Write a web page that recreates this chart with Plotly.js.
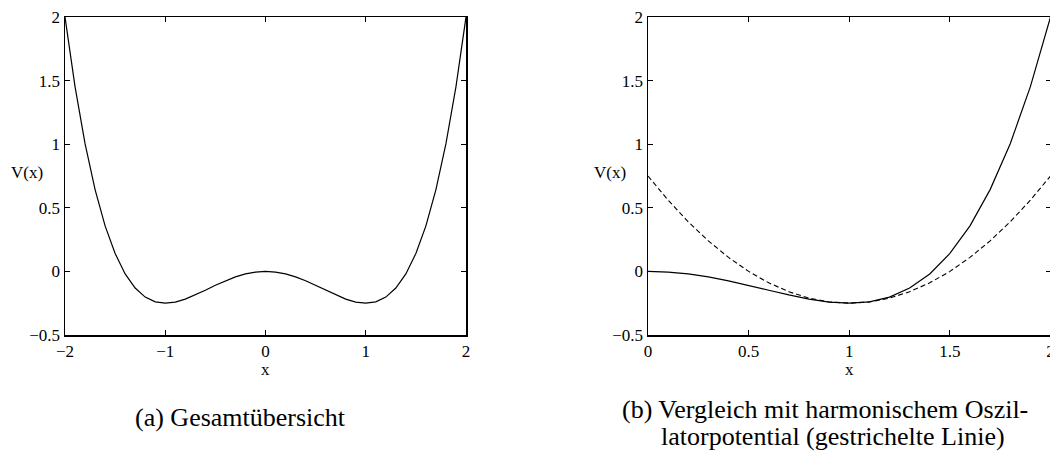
<!DOCTYPE html>
<html>
<head>
<meta charset="utf-8">
<script src="https://cdn.plot.ly/plotly-3.0.1.min.js"></script>
<style>
html,body{margin:0;padding:0;overflow:hidden;background:#fff;}
#chart{width:1064px;height:459px;}
</style>
</head>
<body>
<div id="chart"></div>
<script>
// Left panel: full potential
const xFull = [-2,-1.9,-1.8,-1.7,-1.6,-1.5,-1.4,-1.3,-1.2,-1.1,-1,-0.9,-0.8,-0.7,-0.6,-0.5,-0.4,-0.3,-0.2,-0.1,0,0.1,0.2,0.3,0.4,0.5,0.6,0.7,0.8,0.9,1,1.1,1.2,1.3,1.4,1.5,1.6,1.7,1.8,1.9,2];
const vFull = [2,1.453,1.004,0.643,0.358,0.141,-0.020,-0.131,-0.202,-0.239,-0.25,-0.241,-0.218,-0.185,-0.148,-0.109,-0.074,-0.043,-0.020,-0.005,0,-0.005,-0.020,-0.043,-0.074,-0.109,-0.148,-0.185,-0.218,-0.241,-0.25,-0.239,-0.202,-0.131,-0.020,0.141,0.358,0.643,1.004,1.453,2];
// Right panel: zoom and harmonic approximation
const xHalf = [0,0.1,0.2,0.3,0.4,0.5,0.6,0.7,0.8,0.9,1,1.1,1.2,1.3,1.4,1.5,1.6,1.7,1.8,1.9,2];
const vHalf = [0,-0.005,-0.020,-0.043,-0.074,-0.109,-0.148,-0.185,-0.218,-0.241,-0.25,-0.239,-0.202,-0.131,-0.020,0.141,0.358,0.643,1.004,1.453,2];
const vHarm = [0.75,0.56,0.39,0.24,0.11,0,-0.09,-0.16,-0.21,-0.24,-0.25,-0.24,-0.21,-0.16,-0.09,0,0.11,0.24,0.39,0.56,0.75];
const xTicksA = [-2,-1,0,1,2];
const xTicksB = [0,0.5,1,1.5,2];
const yTicks = [-0.5,0,0.5,1,1.5,2];
const yTickText = ['\u22120.5','0','0.5','1','1.5','2'];
const xTickTextA = ['\u22122','\u22121','0','1','2'];
const xTickTextB = ['0','0.5','1','1.5','2'];
const captionA = '(a) Gesamtübersicht';
const captionB1 = '(b) Vergleich mit harmonischem Oszil-';
const captionB2 = 'latorpotential (gestrichelte Linie)';

const W = 1064, H = 459;
const ff = '"Liberation Serif", "Times New Roman", serif';
const font = {family:ff, size:17, color:'#000'};
const capFont = {family:ff, size:26, color:'#000'};
const axBase = {
  showline:true, linecolor:'#000', linewidth:1.5, mirror:'ticks',
  ticks:'inside', ticklen:5, tickwidth:1, tickcolor:'#000',
  showgrid:false, zeroline:false, tickfont:font, fixedrange:true,
  ticklabeloverflow:'allow'
};
const traces = [
  {x:xFull, y:vFull, type:'scatter', mode:'lines', line:{color:'#000', width:1.2}, xaxis:'x', yaxis:'y', hoverinfo:'skip'},
  {x:xHalf, y:vHalf, type:'scatter', mode:'lines', line:{color:'#000', width:1.2}, xaxis:'x2', yaxis:'y2', hoverinfo:'skip'},
  {x:xHalf, y:vHarm, type:'scatter', mode:'lines', line:{color:'#000', width:1.1, dash:'5px,3px'}, xaxis:'x2', yaxis:'y2', hoverinfo:'skip'}
];
const yDom = [(H-335)/H, (H-17)/H];
const layout = {
  width:W, height:H, margin:{l:0,r:0,t:0,b:0},
  paper_bgcolor:'#fff', plot_bgcolor:'#fff', showlegend:false,
  font:font,
  xaxis: Object.assign({}, axBase, {domain:[65/W, 466/W], range:[-2,2], tickvals:xTicksA, ticktext:xTickTextA, anchor:'y'}),
  yaxis: Object.assign({}, axBase, {domain:yDom, range:[-0.5,2], tickvals:yTicks, ticktext:yTickText, anchor:'x'}),
  xaxis2: Object.assign({}, axBase, {domain:[648/W, 1050.5/W], range:[0,2], tickvals:xTicksB, ticktext:xTickTextB, anchor:'y2'}),
  yaxis2: Object.assign({}, axBase, {domain:yDom, range:[-0.5,2], tickvals:yTicks, ticktext:yTickText, anchor:'x2'}),
  annotations:[
    {text:'V(x)', xref:'paper', yref:'paper', x:9/W, y:(H-172)/H, xanchor:'left', yanchor:'middle', showarrow:false, font:font},
    {text:'x', xref:'paper', yref:'paper', x:265.5/W, y:(H-359)/H, xanchor:'center', yanchor:'top', showarrow:false, font:font, borderpad:0},
    {text:'V(x)', xref:'paper', yref:'paper', x:592/W, y:(H-172)/H, xanchor:'left', yanchor:'middle', showarrow:false, font:font},
    {text:'x', xref:'paper', yref:'paper', x:849/W, y:(H-359)/H, xanchor:'center', yanchor:'top', showarrow:false, font:font, borderpad:0},
    {text:captionA, xref:'paper', yref:'paper', x:133/W, y:(H-417)/H, xanchor:'left', yanchor:'middle', showarrow:false, font:capFont},
    {text:captionB1, xref:'paper', yref:'paper', x:620/W, y:(H-409)/H, xanchor:'left', yanchor:'middle', showarrow:false, font:capFont},
    {text:captionB2, xref:'paper', yref:'paper', x:659/W, y:(H-436)/H, xanchor:'left', yanchor:'middle', showarrow:false, font:capFont}
  ]
};
Plotly.newPlot('chart', traces, layout, {displayModeBar:false, staticPlot:true});
</script>
</body>
</html>
